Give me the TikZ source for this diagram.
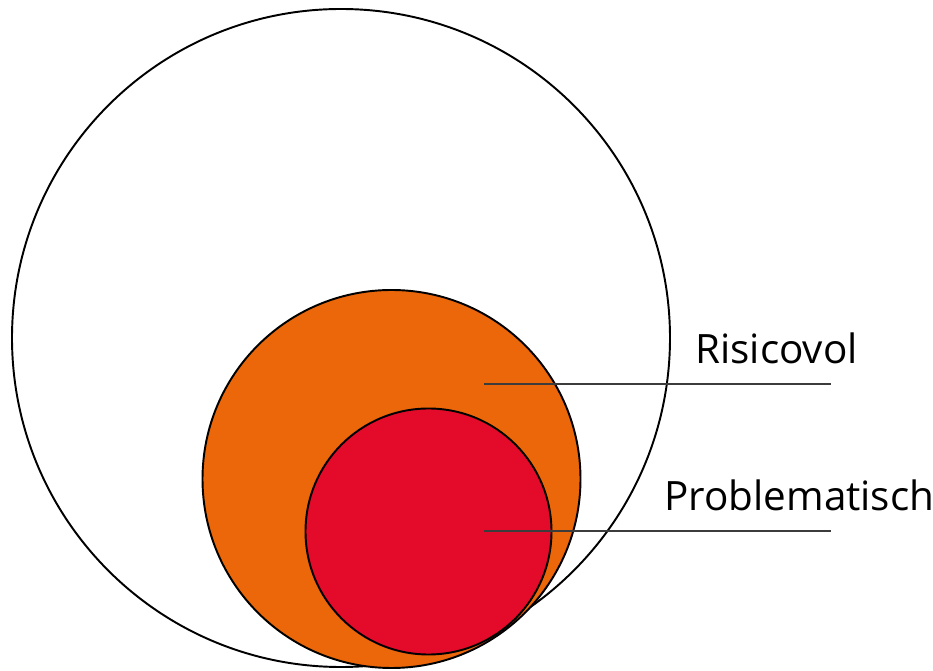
\documentclass[tikz,border=0pt]{standalone}
\usepackage{fontspec}
\setmainfont{Open Sans}
\usetikzlibrary{positioning}
\definecolor{riskorange}{RGB}{235,103,10}
\definecolor{probred}{RGB}{227,11,41}
\definecolor{leadergray}{RGB}{60,60,60}

\begin{document}
\begin{tikzpicture}[x=0.02cm, y=-0.02cm, font=\fontsize{23}{27}\selectfont]
\tikzstyle{ring}=[circle, draw=black, line width=1.1pt, inner sep=0pt]
\tikzstyle{leader}=[draw=leadergray, line width=0.8pt]
\tikzstyle{lbl}=[anchor=base west, inner sep=0pt]
\useasboundingbox (0,0) rectangle (933,671);
\node (all) [ring, fill=white, minimum size=658*0.02cm] at (341,338) {};
\node (risk) [ring, fill=riskorange, minimum size=378*0.02cm] at (391.5,479) {};
\node (prob) [ring, fill=probred, minimum size=246*0.02cm] at (428.5,531.5) {};
\coordinate (riskin) at (484,384);
\coordinate (riskend) at (831,384);
\coordinate (probin) at (484,531);
\coordinate (probend) at (831,531);
\node (risklbl) [lbl] at (695,364) {Risicovol};
\node (problbl) [lbl] at (664,511) {Problematisch};
\draw[leader] (riskin) -- (riskend);
\draw[leader] (probin) -- (probend);
\end{tikzpicture}
\end{document}
